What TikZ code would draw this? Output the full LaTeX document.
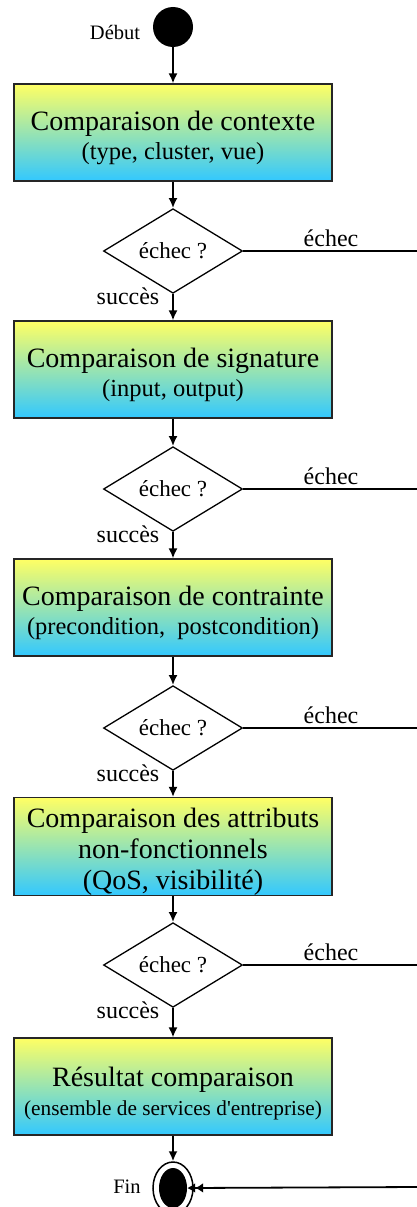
\documentclass[tikz,border=0pt]{standalone}
\usepackage{fontspec}
\setmainfont{Liberation Serif}
\newfontfamily\rawserif{Liberation Serif}
\usetikzlibrary{shapes.geometric,arrows.meta}
\definecolor{topyel}{RGB}{255,255,100}
\definecolor{botblu}{RGB}{50,200,255}
\newcommand{\mainsz}{\fontsize{28}{31}\selectfont}
\newcommand{\subsz}{\fontsize{24.5}{28}\selectfont}
\newcommand{\smlsz}{\fontsize{21.3}{24}\selectfont}
\newcommand{\topstrut}{\rule{0pt}{30pt}}
\begin{document}
\begin{tikzpicture}[x=1pt,y=-1pt,
  stepbox/.style={draw=black!85, line width=1.2pt, top color=topyel, bottom color=botblu,
    minimum width=318pt, minimum height=97pt, inner sep=0pt, align=center, font=\mainsz},
  decis/.style={diamond, draw, line width=1.3pt, fill=white, minimum width=139pt,
    minimum height=66pt, inner sep=0pt, font=\fontsize{23}{26}\selectfont},
  lbl/.style={font=\fontsize{24}{26}\selectfont, inner sep=0pt},
  conn/.style={line width=1.8pt, -{Latex[length=10pt,width=9pt]}},
  plain/.style={line width=1.8pt}]
\useasboundingbox (0,0) rectangle (417,1207);

\node[circle, fill=black, minimum size=40pt, inner sep=0pt] (start) at (173,27) {};
\node[font=\fontsize{20.5}{22}\selectfont] (debut) at (115,32) {Début};

\node[stepbox] (b1) at (173,132.5) {\topstrut Comparaison de contexte\\[-2pt]{\subsz (type, cluster, vue)}};
\node[decis] (d1) at (173,251) {échec ?};
\node[stepbox] (b2) at (173,369.5) {\topstrut Comparaison de signature\\[-2pt]{\subsz (input, output)}};
\node[decis] (d2) at (173,489) {échec ?};
\node[stepbox] (b3) at (173,607.5) {\topstrut Comparaison de contrainte\\[-2pt]{\subsz (precondition,\ \ postcondition)}};
\node[decis] (d3) at (173,728) {échec ?};
\node[stepbox] (b4) at (173,846.5) {\topstrut Comparaison des attributs\\non-fonctionnels\\(QoS, visibilité)};
\node[decis] (d4) at (173,965) {échec ?};
\node[stepbox] (b5) at (173,1086.5) {\rule{0pt}{33pt}Résultat comparaison\\[-2pt]{\smlsz\rawserif (ensemble de services d'entreprise)}};

\node[ellipse, draw, line width=1.5pt, minimum width=40pt, minimum height=52pt, inner sep=0pt] (finout) at (173,1188) {};
\node[ellipse, fill=black, minimum width=28pt, minimum height=40pt, inner sep=0pt] (finin) at (173,1188) {};
\node[font=\fontsize{20.5}{22}\selectfont] (fin) at (127,1187) {Fin};

\draw[conn] (start) -- (b1);
\draw[conn] (b1) -- (d1);
\draw[conn] (d1) -- (b2);
\draw[conn] (b2) -- (d2);
\draw[conn] (d2) -- (b3);
\draw[conn] (b3) -- (d3);
\draw[conn] (d3) -- (b4);
\draw[conn] (b4) -- (d4);
\draw[conn] (d4) -- (b5);
\draw[conn] (b5) -- (finout);

\foreach \i/\y in {1/251,2/489,3/728,4/965}{
  \coordinate (r\i) at (417,\y);
  \draw[plain] (d\i.east) -- (r\i);
  \node[lbl] (e\i) at (331,\y-13) {échec};
  \node[lbl] (s\i) at (128,\y+45) {succès};
}
\coordinate (r5) at (417,1187);
\draw[line width=1.8pt, -{Latex[length=8pt,width=10pt]Latex[length=8pt,width=10pt]}] (r5) -- (finin.east);
\end{tikzpicture}
\end{document}
